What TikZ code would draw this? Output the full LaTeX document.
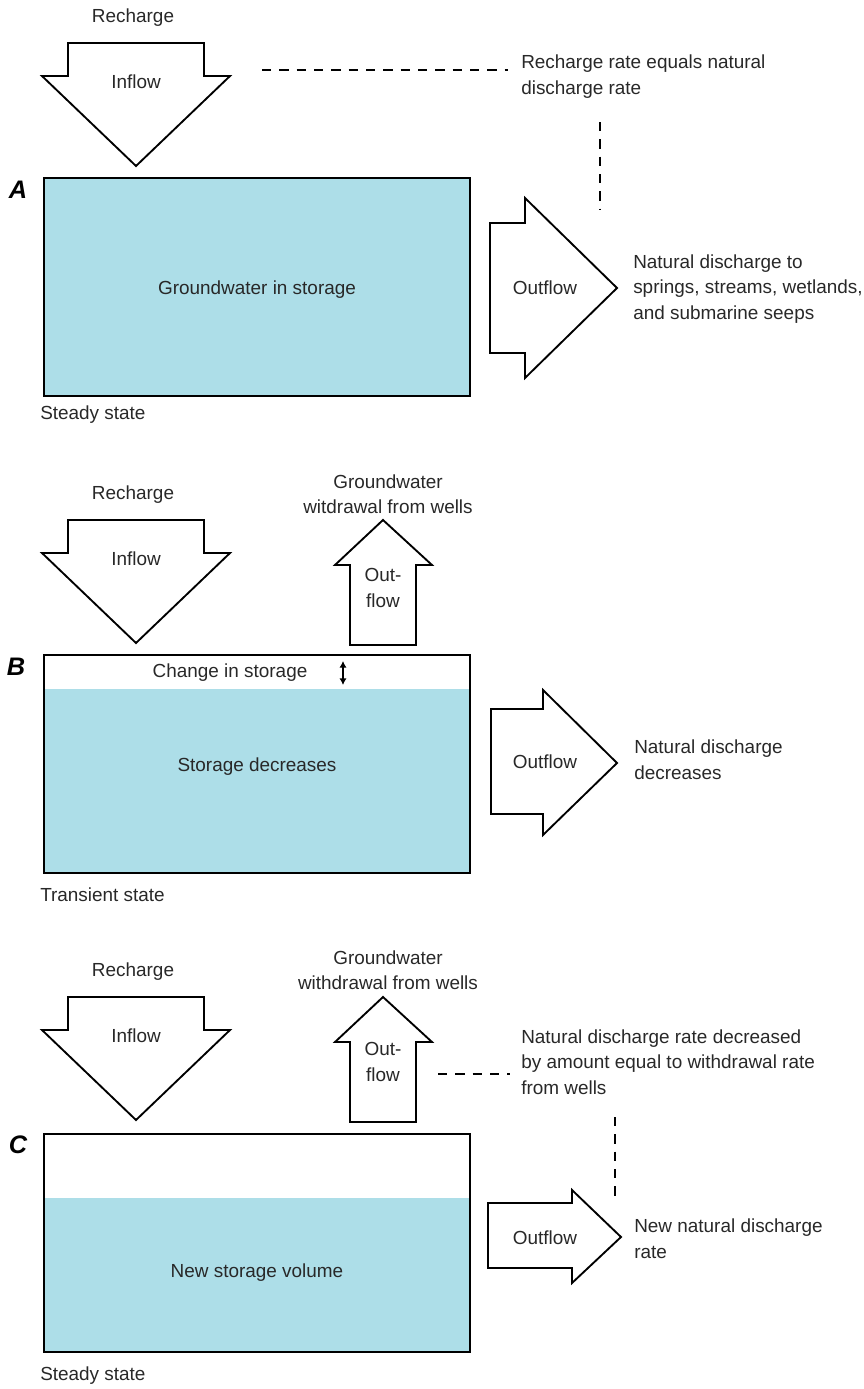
\documentclass[tikz,border=0pt]{standalone}
\usepackage{fontspec}
\setmainfont{Liberation Sans}
\usetikzlibrary{arrows.meta}
\definecolor{water}{RGB}{173,222,232}
\definecolor{txt}{RGB}{40,40,40}
\begin{document}
\begin{tikzpicture}[x=0.75pt,y=-0.75pt,
  every node/.style={font=\fontsize{14.2}{19}\selectfont, text=txt, inner sep=0pt},
  flowarrow/.style={draw=black, line width=1.4pt, fill=white, line join=miter},
  tank/.style={draw=black, line width=2pt},
  leader/.style={draw=black, line width=1.1pt, dash pattern=on 7pt off 6pt},
  panel/.style={font=\fontsize{19}{22}\selectfont\bfseries\itshape, text=black},
  note/.style={align=left, anchor=base west},
  twoline/.style={align=center}
]
\useasboundingbox (0,0) rectangle (864,1389);

% ---------------- Panel A ----------------
\node (rechA) at (133,18) {Recharge};
\draw[flowarrow] (68,43) -- (204,43) -- (204,76) -- (230,76) -- (136,166) -- (42,76) -- (68,76) -- cycle;
\node (inA) at (136,82) {Inflow};
\node[panel] (labA) at (18,190) {A};
\draw[tank, fill=water] (44,178) rectangle (470,396);
\node (gwA) at (257,290) {Groundwater in storage};
\node[anchor=west] (ssA) at (40,415) {Steady state};
\draw[flowarrow] (490,223) -- (525,223) -- (525,198) -- (617,288) -- (525,378) -- (525,353) -- (490,353) -- cycle;
\node (outA) at (545,288) {Outflow};
\node[note] (natA) at (633,319) {Natural discharge to\\springs, streams, wetlands,\\and submarine seeps};
\node[note] (noteA) at (521,94) {Recharge rate equals natural\\discharge rate};
\coordinate (dA1) at (262,70);
\coordinate (dA2) at (508,70);
\draw[leader] (dA1) -- (dA2);
\coordinate (dA3) at (600,122);
\coordinate (dA4) at (600,210);
\draw[leader] (dA3) -- (dA4);

% ---------------- Panel B ----------------
\node (rechB) at (133,495) {Recharge};
\draw[flowarrow] (68,520) -- (204,520) -- (204,553) -- (230,553) -- (136,643) -- (42,553) -- (68,553) -- cycle;
\node (inB) at (136,559) {Inflow};
\node[twoline] (wellB) at (388,494) {Groundwater\\witdrawal from wells};
\draw[flowarrow] (350,645) -- (416,645) -- (416,565) -- (432,565) -- (383,520) -- (335,565) -- (350,565) -- cycle;
\node[twoline] (upB) at (383,588) {Out-\\flow};
\node[panel] (labB) at (16,667) {B};
\fill[water] (44,689) rectangle (470,873);
\draw[tank] (44,655) rectangle (470,873);
\node (chgB) at (230,673) {Change in storage};
\coordinate (chg1) at (343,661);
\coordinate (chg2) at (343,685);
\draw[line width=1.3pt, {Latex[length=5pt,width=5.5pt]}-{Latex[length=5pt,width=5.5pt]}] (chg1) -- (chg2);
\node (sdB) at (257,767) {Storage decreases};
\node[anchor=west] (tsB) at (40,895) {Transient state};
\draw[flowarrow] (491,709) -- (543,709) -- (543,690) -- (617,763) -- (543,835) -- (543,814) -- (491,814) -- cycle;
\node (outB) at (545,762) {Outflow};
\node[note] (natB) at (634,779) {Natural discharge\\decreases};

% ---------------- Panel C ----------------
\node (rechC) at (133,972) {Recharge};
\draw[flowarrow] (68,997) -- (204,997) -- (204,1030) -- (230,1030) -- (136,1120) -- (42,1030) -- (68,1030) -- cycle;
\node (inC) at (136,1036) {Inflow};
\node[twoline] (wellC) at (388,970) {Groundwater\\withdrawal from wells};
\draw[flowarrow] (350,1122) -- (416,1122) -- (416,1042) -- (432,1042) -- (383,997) -- (335,1042) -- (350,1042) -- cycle;
\node[twoline] (upC) at (383,1062) {Out-\\flow};
\coordinate (dC1) at (438,1074);
\coordinate (dC2) at (510,1074);
\draw[leader] (dC1) -- (dC2);
\node[note] (noteC) at (521,1094) {Natural discharge rate decreased\\by amount equal to withdrawal rate\\from wells};
\coordinate (dC3) at (615,1117);
\coordinate (dC4) at (615,1203);
\draw[leader] (dC3) -- (dC4);
\node[panel] (labC) at (18,1145) {C};
\fill[water] (44,1198) rectangle (470,1352);
\draw[tank] (44,1134) rectangle (470,1352);
\node (nsvC) at (257,1273) {New storage volume};
\node[anchor=west] (ssC) at (40,1376) {Steady state};
\draw[flowarrow] (488,1203) -- (572,1203) -- (572,1190) -- (621,1237) -- (572,1283) -- (572,1268) -- (488,1268) -- cycle;
\node (outC) at (545,1238) {Outflow};
\node[note] (natC) at (634,1258) {New natural discharge\\rate};
\end{tikzpicture}
\end{document}
